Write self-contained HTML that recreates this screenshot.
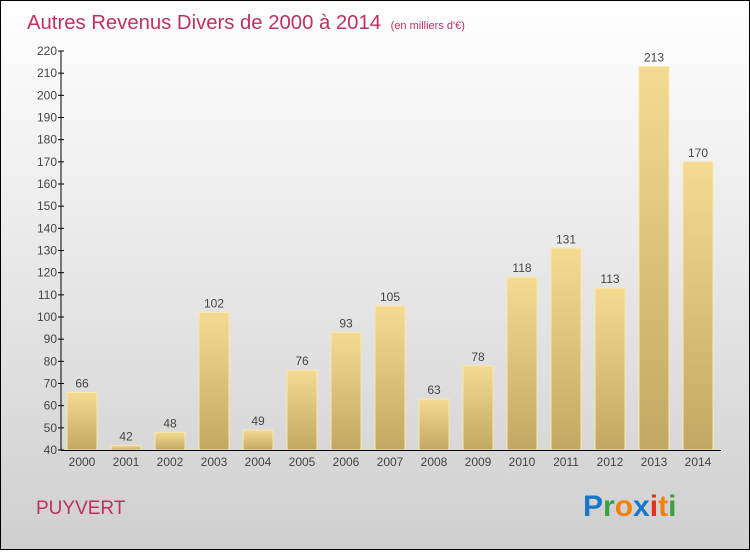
<!DOCTYPE html>
<html><head><meta charset="utf-8"><style>
body{margin:0;width:750px;height:550px;overflow:hidden;font-family:"Liberation Sans",sans-serif}
</style></head><body>
<svg id="c" width="750" height="550" xmlns="http://www.w3.org/2000/svg">
<defs>
<linearGradient id="bg" x1="0" y1="0" x2="0" y2="1"><stop offset="0" stop-color="#ffffff"/><stop offset="1" stop-color="#cfcfcf"/></linearGradient>
<linearGradient id="bar" x1="0" y1="0" x2="0" y2="1"><stop offset="0" stop-color="#f5da92"/><stop offset="1" stop-color="#c2a862"/></linearGradient>
</defs>
<rect x="0.5" y="0.5" width="749" height="549" fill="url(#bg)" stroke="#000"/>
<text x="27" y="29" font-size="20.3" fill="#c0305e">Autres Revenus Divers de 2000 à 2014 <tspan font-size="11" dx="4">(en milliers d'€)</tspan></text>
<g id="bars"></g>
<g id="axes"></g>
<text x="36" y="514" font-size="19" fill="#c0305e">PUYVERT</text>
<g font-size="30" font-weight="bold" font-family="Liberation Sans, sans-serif">
<text x="583" y="516"><tspan fill="#1a78c8">P</tspan><tspan fill="#3aa040">r</tspan><tspan fill="#f08010">o</tspan><tspan fill="#1a78c8">x</tspan><tspan fill="#e03020">i</tspan><tspan fill="#f08010">t</tspan><tspan fill="#3aa040">i</tspan></text>
</g>
</svg>
<script>
const years=["2000","2001","2002","2003","2004","2005","2006","2007","2008","2009","2010","2011","2012","2013","2014"];
const values=[66,42,48,102,49,76,93,105,63,78,118,131,113,213,170];
const ticks=[40,50,60,70,80,90,100,110,120,130,140,150,160,170,180,190,200,210,220];
const NS="http://www.w3.org/2000/svg";
const y0=450,y1=51,vmin=40,vmax=220;
function yScale(v){return y0-(v-vmin)/(vmax-vmin)*(y0-y1);}
function xScale(i){return 82+i*44;}
function mk(t,a,p){const e=document.createElementNS(NS,t);for(const k in a)e.setAttribute(k,a[k]);p.appendChild(e);return e;}
const bars=document.getElementById('bars'),axes=document.getElementById('axes');
values.forEach((v,i)=>{
 const x=xScale(i),y=yScale(v);
 const r=mk('rect',{x:x-15,y:y,width:30,height:y0-y,fill:'url(#bar)',stroke:'#f8e8b0','stroke-width':1},bars);
 
 
 const t=mk('text',{x:x,y:y-5,'text-anchor':'middle','font-size':12,fill:'#444'},bars);t.textContent=v;
 
 
 const l=mk('text',{x:x,y:466,'text-anchor':'middle','font-size':12,fill:'#444'},axes);l.textContent=years[i];
 
 
});
const ya=mk('line',{x1:61,y1:y1,x2:61,y2:y0,stroke:'#000'},axes);


const xa=mk('line',{x1:61,y1:y0+0.5,x2:721,y2:y0+0.5,stroke:'#000'},axes);


ticks.forEach(v=>{
 const y=yScale(v);
 mk('line',{x1:58,y1:y,x2:64,y2:y,stroke:'#000'},axes);
 const t=mk('text',{x:57,y:y+4,'text-anchor':'end','font-size':12,fill:'#444'},axes);t.textContent=v;
 
 
});
</script>
</body></html>
